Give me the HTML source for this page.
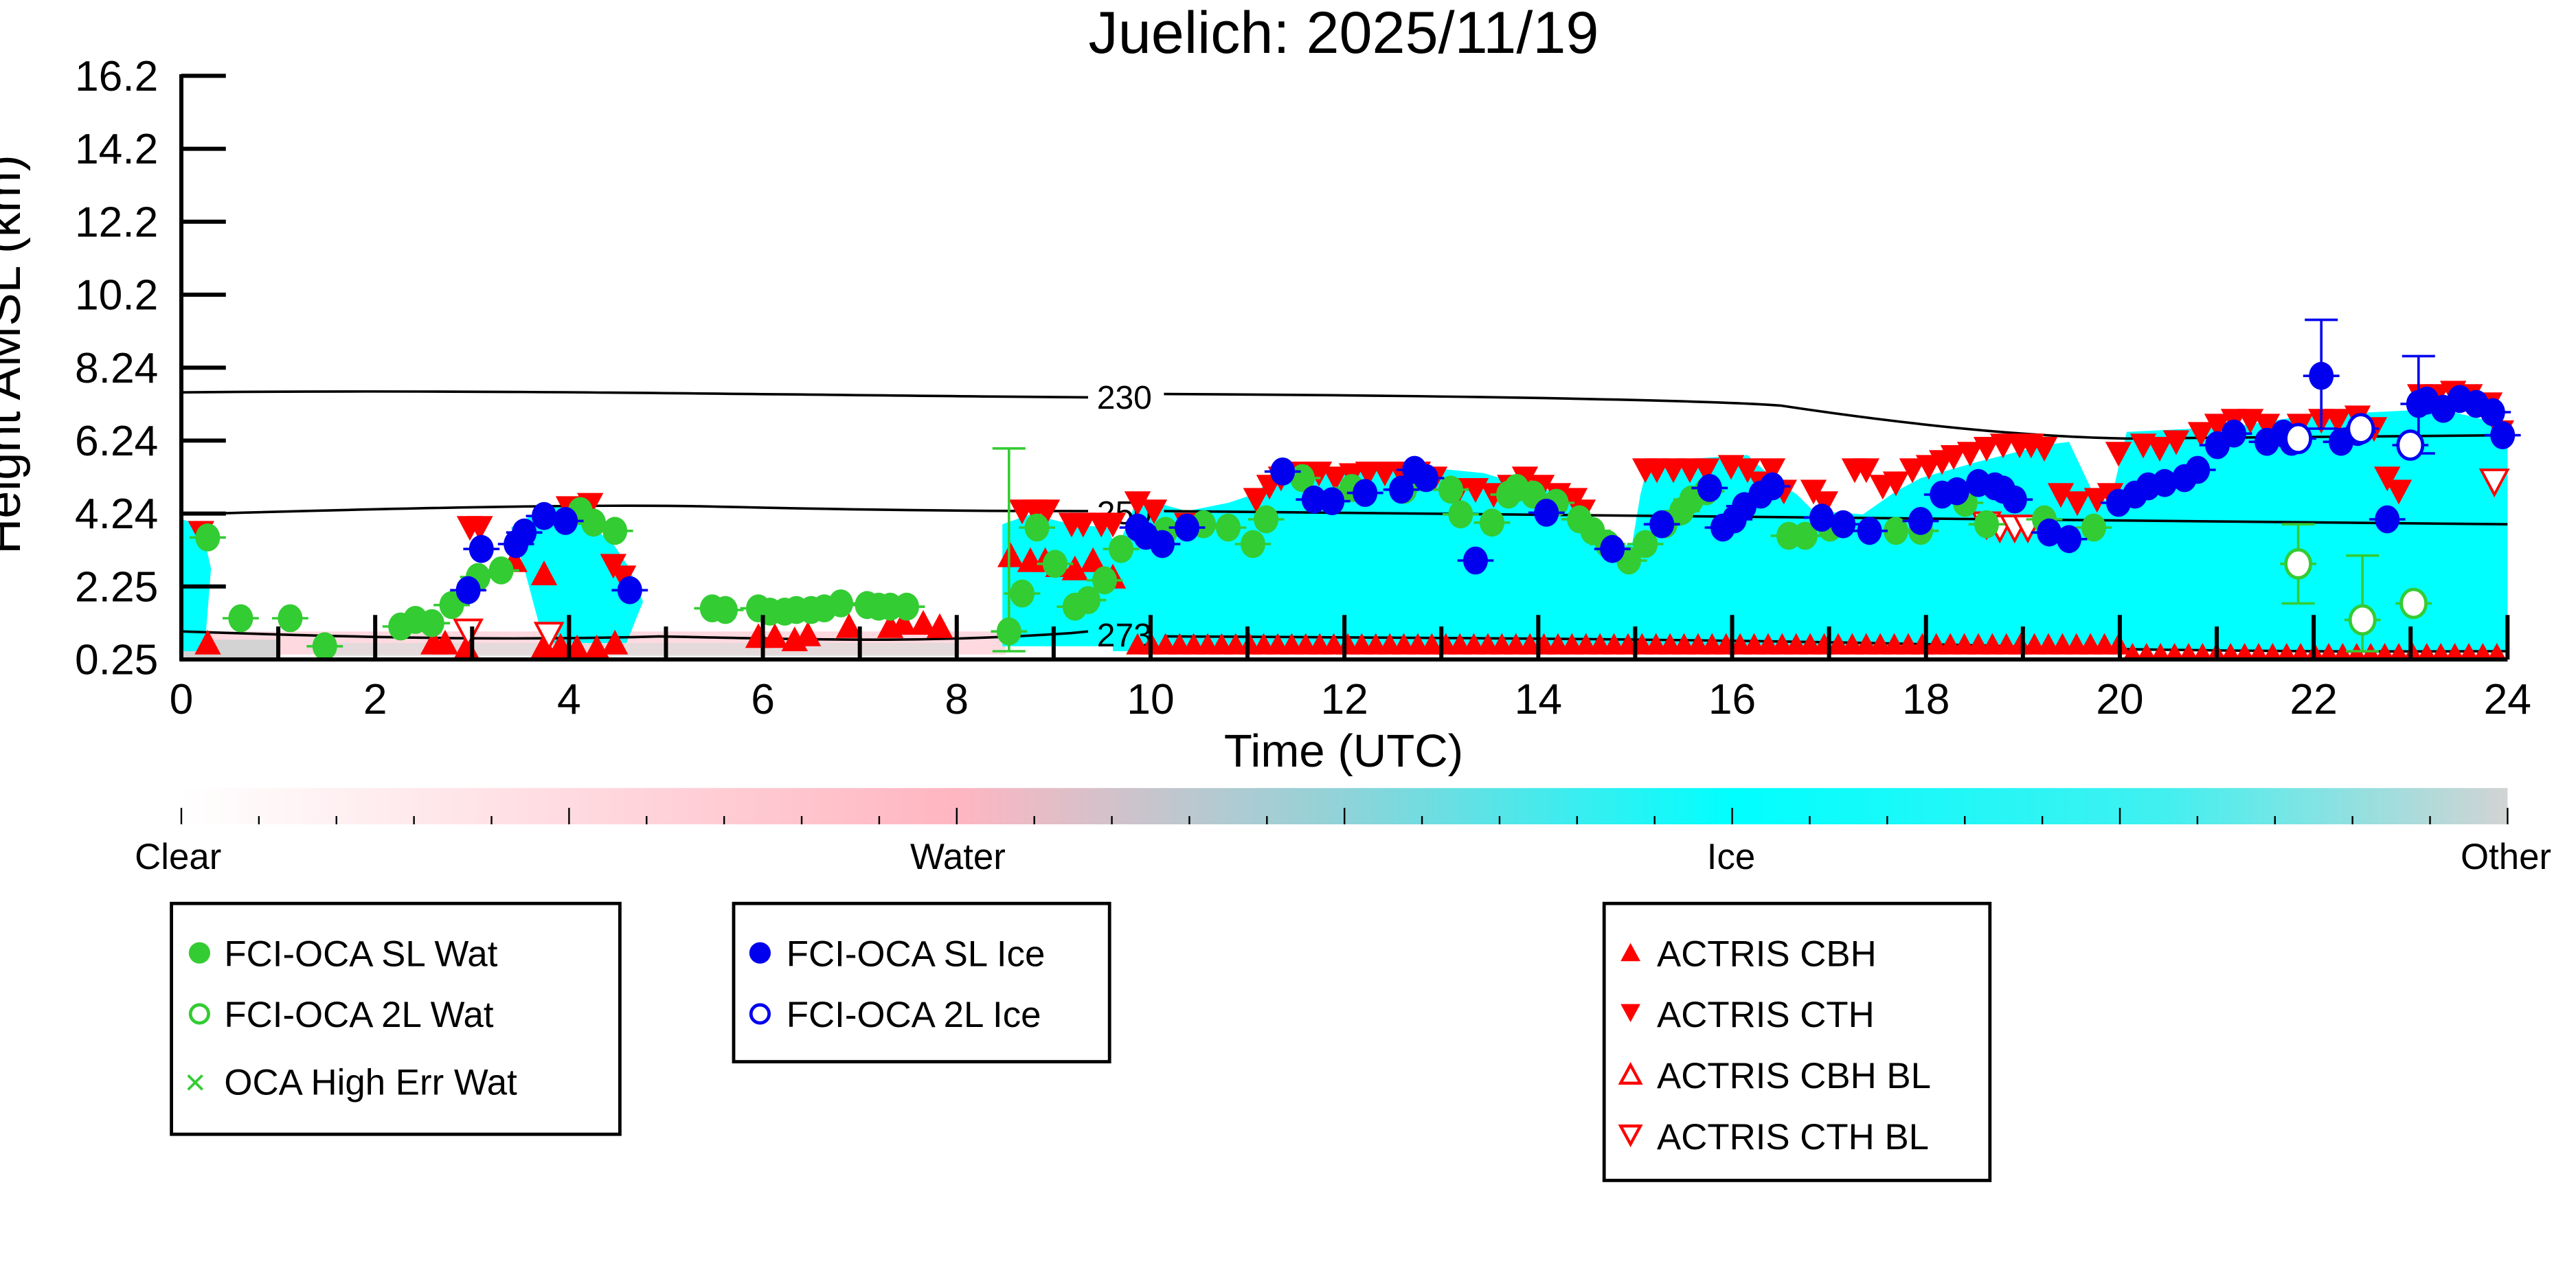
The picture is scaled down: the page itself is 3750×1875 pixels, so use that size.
<!DOCTYPE html>
<html><head><meta charset="utf-8"><style>
html,body{margin:0;padding:0;background:#fff;}
svg{display:block;font-family:"Liberation Sans","DejaVu Sans",sans-serif;}
</style></head><body>
<svg id="s" width="3750" height="1875" viewBox="0 0 1562.5 781.25" xmlns="http://www.w3.org/2000/svg">
<defs>
<linearGradient id="cb" x1="0" x2="1" y1="0" y2="0">
<stop offset="0" stop-color="#ffffff"/>
<stop offset="0.333" stop-color="#ffb6c1"/>
<stop offset="0.5" stop-color="#8fd3d8"/>
<stop offset="0.667" stop-color="#00ffff"/>
<stop offset="0.85" stop-color="#40f0f0"/>
<stop offset="1" stop-color="#d3d3d3"/>
</linearGradient>
</defs>
<text x="815" y="32" font-size="36" text-anchor="middle">Juelich: 2025/11/19</text>
<g id="plot">
<rect x="110" y="383" width="500" height="14" fill="#ffc0cb" opacity="0.6"/>
<rect x="110" y="388" width="60" height="12" fill="#d3d3d3"/>
<rect x="200" y="390" width="380" height="8" fill="#d8d8d8" opacity="0.7"/>
<polygon fill="#00ffff" points="110,315 122,318 128,345 124,395 110,395"/>
<polygon fill="#00ffff" points="310,320 330,308 352,305 360,320 372,330 382,345 390,365 380,390 330,390 318,345"/>
<polygon fill="#00ffff" points="608,318 625,312 650,318 672,320 680,340 678,392 608,392"/>
<polygon fill="#00ffff" points="675,340 690,302 720,310 745,305 760,300 770,292 800,285 860,283 900,287 930,296 955,300 970,318 980,332 990,330 995,300 1000,280 1030,278 1060,276 1075,290 1090,300 1100,310 1130,312 1150,298 1165,290 1200,280 1240,270 1255,268 1270,300 1280,305 1290,262 1330,260 1360,258 1400,252 1440,250 1480,248 1521,258 1521,395 675,395"/>
</g>
<g id="contours" fill="none" stroke="#000" stroke-width="1.5">
<path d="M110,238 C300,236 500,240 660,241 M706,239 C900,240 1040,243 1080,246 C1160,258 1230,265 1290,266 L1521,264"/>
<path d="M110,312 C250,308 350,306 420,307 C550,310 620,310 660,310 M706,310 C900,312 1100,316 1521,318"/>
<path d="M110,383 C200,386 300,389 400,386 C500,388 560,390 650,384 L660,383 M706,386 C900,387 1100,388 1250,393 C1400,396 1480,395 1521,395"/>
</g>
<text x="682" y="248" font-size="20" text-anchor="middle">230</text>
<text x="682" y="318" font-size="20" text-anchor="middle">250</text>
<text x="682" y="392" font-size="20" text-anchor="middle">273</text>
<g id="marks"></g>
<g stroke="#000" stroke-width="2.5" fill="none">
<line x1="110" y1="45" x2="110" y2="401"/>
<line x1="109" y1="400" x2="1521" y2="400"/>
</g>
<g id="ticks" stroke="#000" stroke-width="2.5"></g>
<g id="labels" font-size="26"></g>
<text x="815" y="465" font-size="28" text-anchor="middle">Time (UTC)</text>
<text transform="translate(12,215) rotate(-90)" font-size="30" text-anchor="middle">Height AMSL (km)</text>
<rect x="110" y="478" width="1411" height="22" fill="url(#cb)"/>
<g id="cbt" stroke="#000" stroke-width="1"></g>
<g font-size="22" text-anchor="middle">
<text x="108" y="527">Clear</text><text x="581" y="527">Water</text><text x="1050" y="527">Ice</text><text x="1520" y="527">Other</text>
</g>
<g fill="none" stroke="#000" stroke-width="2">
<rect x="104" y="548" width="272" height="140"/>
<rect x="445" y="548" width="228" height="96"/>
<rect x="973" y="548" width="234" height="168"/>
</g>
<g font-size="22">
<circle cx="121" cy="578" r="6.5" fill="#33cc33"/><text x="136" y="586">FCI-OCA SL Wat</text>
<circle cx="121" cy="615" r="5.5" fill="none" stroke="#33cc33" stroke-width="2"/><text x="136" y="623">FCI-OCA 2L Wat</text>
<text x="112" y="664" fill="#33cc33" font-size="22">×</text><text x="136" y="664">OCA High Err Wat</text>
<circle cx="461" cy="578" r="6.5" fill="#0000ee"/><text x="477" y="586">FCI-OCA SL Ice</text>
<circle cx="461" cy="615" r="5.5" fill="none" stroke="#0000ee" stroke-width="2"/><text x="477" y="623">FCI-OCA 2L Ice</text>
<polygon points="989,572 995,583 983,583" fill="red"/><text x="1005" y="586">ACTRIS CBH</text>
<polygon points="983,609 995,609 989,620" fill="red"/><text x="1005" y="623">ACTRIS CTH</text>
<polygon points="989,646 995,657 983,657" fill="none" stroke="red" stroke-width="1.8"/><text x="1005" y="660">ACTRIS CBH BL</text>
<polygon points="983,683 995,683 989,694" fill="none" stroke="red" stroke-width="1.8"/><text x="1005" y="697">ACTRIS CTH BL</text>
</g>
<script>
(function(){
var NS="http://www.w3.org/2000/svg";
function el(p,t,a,txt){var e=document.createElementNS(NS,t);for(var k in a)e.setAttribute(k,a[k]);if(txt!==undefined)e.textContent=txt;p.appendChild(e);return e;}
var tk=document.getElementById('ticks'),lb=document.getElementById('labels'),m=document.getElementById('marks'),cb=document.getElementById('cbt');
var yl=["16.2","14.2","12.2","10.2","8.24","6.24","4.24","2.25","0.25"];
for(var i=0;i<9;i++){var y=46+i*44.25;el(tk,'line',{x1:110,y1:y,x2:137,y2:y});el(lb,'text',{x:96,y:y+9,'text-anchor':'end'},yl[i]);}
for(var h=0;h<=24;h++){var x=110+h*58.79;el(tk,'line',{x1:x,y1:400,x2:x,y2:(h%2?380:373)});if(h%2==0)el(lb,'text',{x:x,y:433,'text-anchor':'middle'},String(h));}
for(var i=0;i<=30;i++){var x=110+i*1411/30;el(cb,'line',{x1:x,y1:500,x2:x,y2:(i%5==0?490:495)});}
function dn(x,y,f){el(m,'polygon',{points:(x-8)+','+(y-7)+' '+(x+8)+','+(y-7)+' '+x+','+(y+8),fill:f?'red':'#fff',stroke:'red','stroke-width':f?0:1.6});}
function up(x,y,f,s){s=s||8;el(m,'polygon',{points:(x-s)+','+(y+s-1)+' '+(x+s)+','+(y+s-1)+' '+x+','+(y-s),fill:f?'red':'#fff',stroke:'red','stroke-width':f?0:1.6});}
function dot(x,y,c,open){el(m,'line',{x1:x-11,y1:y,x2:x+11,y2:y,stroke:c,'stroke-width':1.5});el(m,'ellipse',{cx:x,cy:y,rx:7.5,ry:8.5,fill:open?'#fff':c,stroke:c,'stroke-width':open?2:0});}
function eb(x,y1,y2,c){el(m,'line',{x1:x,y1:y1,x2:x,y2:y2,stroke:c,'stroke-width':1.5});el(m,'line',{x1:x-10,y1:y1,x2:x+10,y2:y1,stroke:c,'stroke-width':1.5});el(m,'line',{x1:x-10,y1:y2,x2:x+10,y2:y2,stroke:c,'stroke-width':1.5});}
var lowU=[[126,390],[263,390],[270,390],[283,393],[330,392],[340,392],[350,393],[362,393],[373,390],[460,386],[470,386],[482,388],[490,385],[515,380],[540,380],[548,378],[560,378],[570,380],[312,340],[330,348],[613,337],[625,340],[634,340],[642,343],[652,345],[663,340],[675,350]];
lowU.forEach(function(p){up(p[0],p[1],1);});
for(var x=690;x<=1521;x+=8.5){up(x,x<1290?391:395,1,x<1290?7:5);}
var D=[[122,323],[285,320],[291,320],[345,308],[358,306],[372,343],[378,350],[620,310],[628,310],[635,310],[650,318],[657,318],[668,318],[675,318],[690,305],[700,310],[720,318],[762,303],[770,295],[777,290],[786,287],[800,287],[810,290],[820,288],[830,287],[840,287],[850,287],[860,287],[870,290],[885,297],[895,297],[906,300],[916,295],[925,290],[935,295],[945,300],[955,303],[960,310],[998,285],[1005,285],[1015,285],[1025,285],[1035,285],[1050,283],[1060,285],[1068,293],[1075,285],[1082,298],[1100,298],[1107,305],[1125,285],[1132,285],[1142,295],[1150,293],[1160,285],[1170,283],[1178,280],[1185,277],[1195,275],[1205,272],[1215,270],[1225,270],[1232,270],[1240,272],[1250,300],[1260,305],[1272,303],[1280,300],[1285,275],[1300,270],[1310,272],[1320,268],[1335,263],[1345,258],[1355,255],[1365,255],[1375,258],[1395,258],[1408,255],[1418,255],[1430,253],[1440,260],[1448,290],[1455,298],[1468,240],[1478,240],[1488,238],[1498,240],[1510,245],[1517,262]];
D.forEach(function(p){dn(p[0],p[1],1);});
[[284,383],[333,385],[1205,318],[1213,320],[1222,320],[1230,320],[1513,292]].forEach(function(p){dn(p[0],p[1],0);});
eb(612,272,395,'#33cc33');eb(1394,318,366,'#33cc33');eb(1433,337,395,'#33cc33');eb(1408,194,260,'#0000ee');eb(1467,216,275,'#0000ee');
var G=[[126,326],[146,375],[176,375],[197,392],[243,380],[252,376],[262,378],[274,367],[290,350],[304,346],[352,310],[360,317],[373,322],[432,369],[440,370],[460,369],[467,371],[476,371],[483,370],[492,370],[500,369],[510,366],[526,367],[533,368],[540,368],[550,368],[612,383],[620,360],[629,320],[640,342],[652,368],[660,364],[670,352],[680,333],[707,322],[730,318],[745,320],[760,330],[768,315],[790,290],[820,296],[852,297],[880,297],[886,312],[905,317],[915,300],[920,296],[930,300],[944,305],[958,315],[966,322],[975,330],[988,340],[998,330],[1010,318],[1020,310],[1026,303],[1035,298],[1085,325],[1095,325],[1110,320],[1150,322],[1165,322],[1192,305],[1205,318],[1240,315],[1270,320]];
G.forEach(function(p){dot(p[0],p[1],'#33cc33');});
var B=[[284,358],[292,333],[313,330],[318,323],[330,313],[343,316],[382,358],[690,320],[695,325],[705,330],[720,320],[778,286],[797,303],[808,304],[828,299],[850,297],[858,285],[865,290],[895,340],[938,311],[978,333],[1008,318],[1037,296],[1045,320],[1052,315],[1058,307],[1068,300],[1075,295],[1105,314],[1118,318],[1134,322],[1165,316],[1178,300],[1187,298],[1200,293],[1210,295],[1215,297],[1222,303],[1243,323],[1255,327],[1285,305],[1295,300],[1303,295],[1313,293],[1325,290],[1333,285],[1345,270],[1355,263],[1375,268],[1385,263],[1390,268],[1420,268],[1430,262],[1448,315],[1472,243],[1482,248],[1492,242],[1502,245],[1512,250],[1518,264],[1408,228],[1467,245]];
B.forEach(function(p){dot(p[0],p[1],'#0000ee');});
[[1394,266],[1432,260],[1462,270]].forEach(function(p){dot(p[0],p[1],'#0000ee',1);});
[[1394,342],[1433,376],[1464,366]].forEach(function(p){dot(p[0],p[1],'#33cc33',1);});
})();
</script>
</svg>
</body></html>
